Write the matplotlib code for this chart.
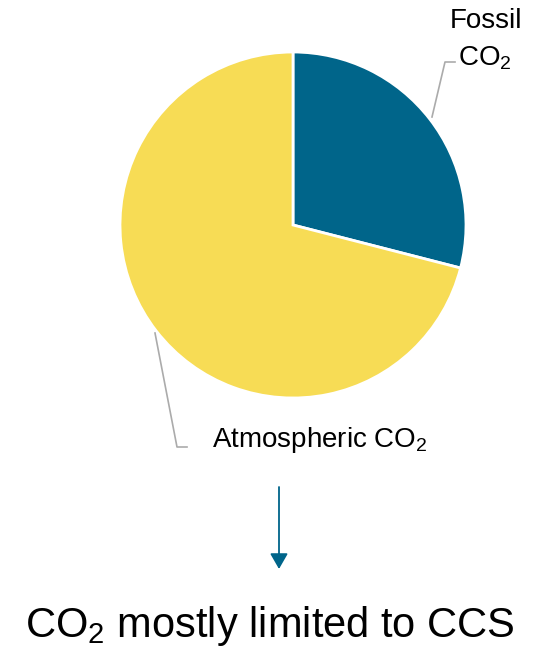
import matplotlib.pyplot as plt

plt.rcParams['font.family'] = ['Liberation Sans', 'DejaVu Sans']
plt.rcParams['mathtext.fontset'] = 'custom'
plt.rcParams['mathtext.rm'] = 'Liberation Sans'

W, H = 544, 651

labels = ['Fossil CO2', 'Atmospheric CO2']
shares = [29, 71]
colors = ['#00658A', '#F7DC55']

fig = plt.figure(figsize=(W / 100, H / 100), dpi=100)
ax = fig.add_axes([0, 0, 1, 1])

# pie in pixel coords, y flipped
cx, cy, r = 293, H - 225, 173
ax.pie(shares, colors=colors, startangle=90, counterclock=False,
       center=(cx, cy), radius=r, frame=True,
       wedgeprops=dict(edgecolor='white', linewidth=2))
ax.set_xlim(0, W)
ax.set_ylim(0, H)
ax.set_aspect('equal')
ax.axis('off')

grey = '#ABABAB'
# leader lines
ax.plot([432, 445, 455], [H - 117, H - 62, H - 62], color=grey, lw=1.2)
ax.plot([155, 177, 187], [H - 333, H - 447, H - 447], color=grey, lw=1.2)

fs = 20
ax.text(486, H - 28, 'Fossil', fontsize=fs, ha='center', va='baseline')
ax.text(485, H - 66, r'CO$\mathregular{_2}$', fontsize=fs, ha='center', va='baseline')
ax.text(212, H - 447, r'Atmospheric CO$\mathregular{_2}$', fontsize=fs,
        ha='left', va='baseline')

# arrow
ax.annotate('', xy=(279, H - 569), xytext=(279, H - 487),
            arrowprops=dict(arrowstyle='-|>,head_width=0.54,head_length=0.94',
                            color='#00658A', lw=1.3, mutation_scale=10,
                            shrinkA=0, shrinkB=0))

ax.text(270, H - 637, r'CO$\mathregular{_2}$ mostly limited to CCS',
        fontsize=30, ha='center', va='baseline')

fig.savefig('out.png', dpi=100)
